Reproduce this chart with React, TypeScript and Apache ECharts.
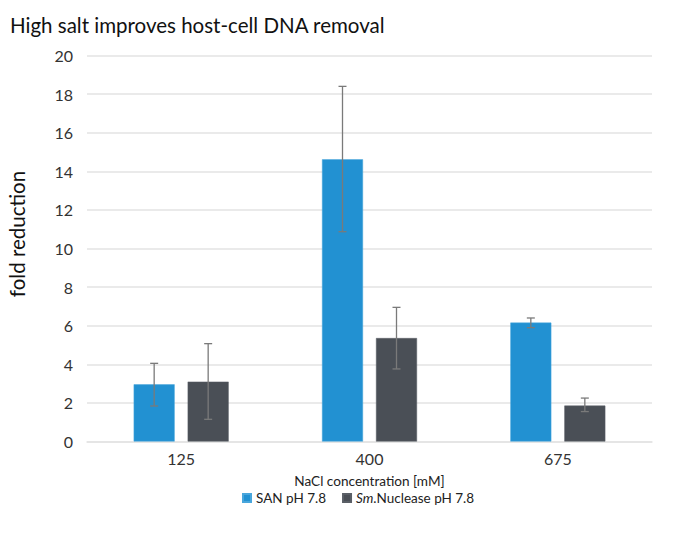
import React, { useEffect, useRef } from "react";
import * as echarts from "echarts";

const categories = ["125", "400", "675"];
const sanValues = [2.96, 14.62, 6.16];
const sanLow = [1.84, 10.87, 5.9];
const sanHigh = [4.05, 18.4, 6.4];
const smValues = [3.1, 5.36, 1.86];
const smLow = [1.15, 3.76, 1.55];
const smHigh = [5.07, 6.95, 2.25];
const seriesNames = ["SAN pH 7.8", "Sm.Nuclease pH 7.8"];

const FONT = "Lato";
const BAR_W = 41;
const BAR_GAP = 13;

function errorSeries(low: number[], high: number[], offset: number) {
  return {
    type: "custom",
    silent: true,
    z: 10,
    data: categories.map((_, i) => [i, low[i], high[i]]),
    renderItem: (params: any, api: any) => {
      const idx = api.value(0);
      const lo = api.coord([idx, api.value(1)]);
      const hi = api.coord([idx, api.value(2)]);
      const x = lo[0] + offset;
      const cap = 4;
      const style = { stroke: "#7a7a7a", lineWidth: 1.3 };
      return {
        type: "group",
        children: [
          { type: "line", shape: { x1: x, y1: lo[1], x2: x, y2: hi[1] }, style },
          { type: "line", shape: { x1: x - cap, y1: hi[1], x2: x + cap, y2: hi[1] }, style },
          { type: "line", shape: { x1: x - cap, y1: lo[1], x2: x + cap, y2: lo[1] }, style },
        ],
      };
    },
  };
}

export default function App() {
  const ref = useRef<HTMLDivElement>(null);
  useEffect(() => {
    const chart = echarts.init(ref.current!, null, { renderer: "svg" });
    const off = (BAR_W + BAR_GAP) / 2;
    chart.setOption({
      animation: false,
      textStyle: { fontFamily: FONT },
      title: {
        text: "High salt improves host-cell DNA removal",
        left: 5,
        top: 9,
        textStyle: { fontFamily: FONT, fontSize: 20.5, fontWeight: "normal", color: "#111" },
      },
      grid: { left: 87, right: 38, top: 55.5, bottom: 91.5 },
      xAxis: {
        type: "category",
        data: categories,
        name: "NaCl concentration [mM]",
        nameLocation: "middle",
        nameGap: 32,
        nameTextStyle: { fontFamily: FONT, fontSize: 13.6, lineHeight: 14, color: "#222" },
        axisLine: { show: true, lineStyle: { color: "#e3e3e3", width: 1.5 } },
        axisTick: { show: false },
        axisLabel: { fontFamily: FONT, fontSize: 16, color: "#333", margin: 9 },
      },
      yAxis: {
        type: "value",
        min: 0,
        max: 20,
        interval: 2,
        axisLine: { show: false },
        axisTick: { show: false },
        axisLabel: { fontFamily: FONT, fontSize: 16, color: "#333", margin: 14 },
        splitLine: { lineStyle: { color: "#e3e3e3", width: 1.5 } },
      },
      legend: {
        data: seriesNames,
        top: 491,
        left: 242,
        padding: 0,
        itemWidth: 8,
        itemHeight: 8,
        itemGap: 16,
        icon: "rect",
        formatter: (name: string) =>
          name.startsWith("Sm.") ? "{i|Sm}{n|" + name.slice(2) + "}" : "{n|" + name + "}",
        textStyle: {
          fontFamily: FONT,
          fontSize: 13.5,
          lineHeight: 14,
          color: "#222",
          rich: {
            n: { fontFamily: FONT, fontSize: 13.5, lineHeight: 14, color: "#222" },
            i: { fontFamily: FONT, fontSize: 13.5, lineHeight: 14, color: "#222", fontStyle: "italic" },
          },
        },
      },
      graphic: [
        {
          type: "text",
          x: 17,
          y: 234,
          rotation: Math.PI / 2,
          style: {
            text: "fold reduction",
            fontFamily: FONT,
            fontSize: 20.5,
            fill: "#111",
            align: "center",
            verticalAlign: "middle",
          },
        },
      ],
      series: [
        {
          name: seriesNames[0],
          type: "bar",
          data: sanValues,
          barWidth: BAR_W,
          barGap: (BAR_GAP / BAR_W) * 100 + "%",
          itemStyle: { color: "#2291d2", borderColor: "#49a6dc", borderWidth: 0.5 },
        },
        {
          name: seriesNames[1],
          type: "bar",
          data: smValues,
          barWidth: BAR_W,
          itemStyle: { color: "#4a4f56", borderColor: "#5a5f66", borderWidth: 0.5 },
        },
        errorSeries(sanLow, sanHigh, -off),
        errorSeries(smLow, smHigh, off),
      ],
    });
    return () => chart.dispose();
  }, []);
  return (
    <div
      ref={ref}
      style={{ position: "absolute", left: 0, top: 0, width: 690, height: 533 }}
    />
  );
}
